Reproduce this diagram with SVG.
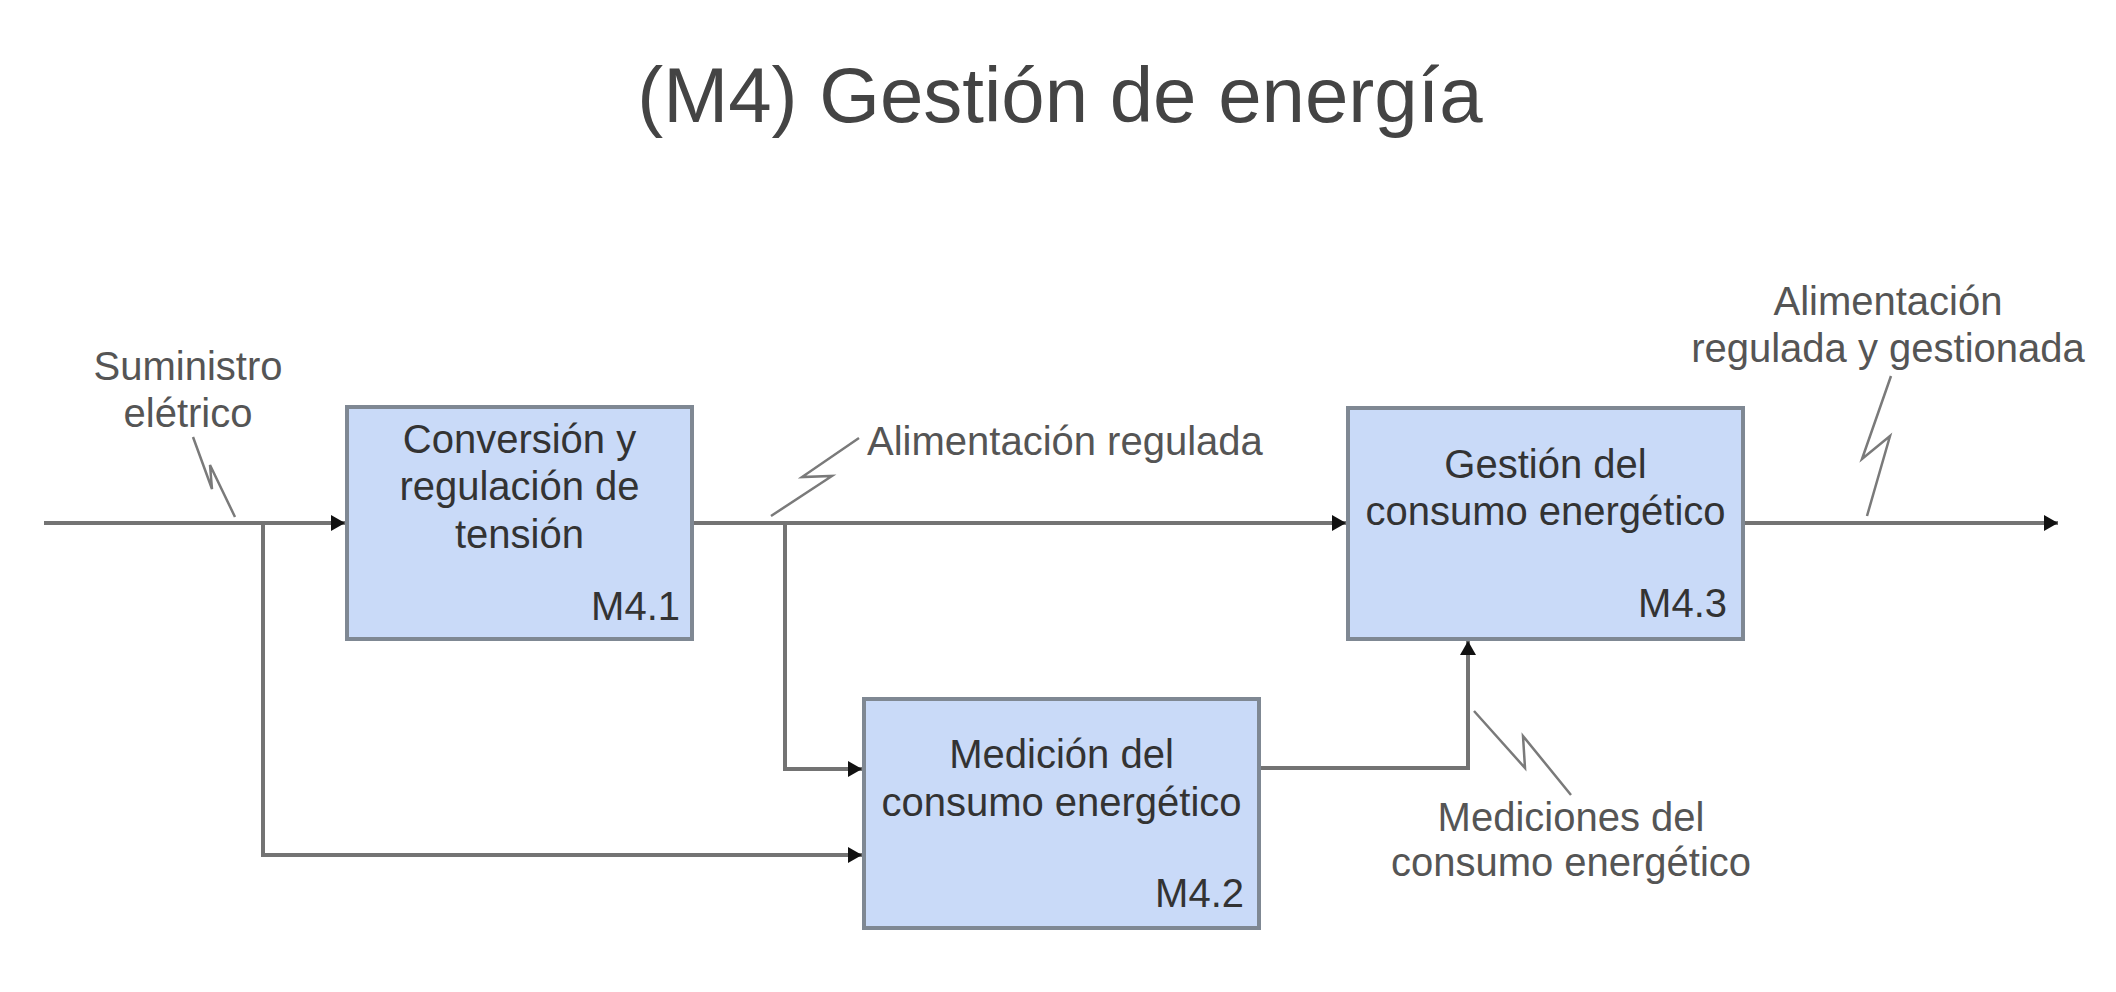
<svg xmlns="http://www.w3.org/2000/svg" width="2116" height="992" viewBox="0 0 2116 992">
<style>
  .title{font-family:"Liberation Sans",Arial,sans-serif;font-size:78px;fill:#444444;text-anchor:middle}
  .box{fill:#c9daf8;stroke:#7f8893;stroke-width:4}
  .bt{font-family:"Liberation Sans",Arial,sans-serif;font-size:40px;fill:#333333;text-anchor:middle}
  .id{font-family:"Liberation Sans",Arial,sans-serif;font-size:40px;fill:#333333;text-anchor:end}
  .lbl{font-family:"Liberation Sans",Arial,sans-serif;font-size:40px;fill:#555555}
  .c{text-anchor:middle}
  .wire{fill:none;stroke:#737373;stroke-width:4}
  .sq{fill:none;stroke:#7a7a7a;stroke-width:2.5}
</style>
<defs>
  <marker id="arr" markerUnits="userSpaceOnUse" markerWidth="14" markerHeight="16" refX="14" refY="8" orient="auto">
    <path d="M0,0 L14,8 L0,16 z" fill="#111111"/>
  </marker>
</defs>
<rect width="2116" height="992" fill="#ffffff"/>
<text class="title" x="1060" y="122">(M4) Gestión de energía</text>

<g id="connectors">
  <path class="wire" d="M44,523 H345" marker-end="url(#arr)"/>
  <path class="wire" d="M263,523 V855 H862" marker-end="url(#arr)"/>
  <path class="wire" d="M692,523 H1346" marker-end="url(#arr)"/>
  <path class="wire" d="M785,523 V769 H862" marker-end="url(#arr)"/>
  <path class="wire" d="M1259,768 H1468 V641" marker-end="url(#arr)"/>
  <path class="wire" d="M1743,523 H2058" marker-end="url(#arr)"/>
  <polyline class="sq" points="193,437 212,489 210,465 235,517"/>
  <polyline class="sq" points="771,516 832,476 802,477 859,438"/>
  <polyline class="sq" points="1474,711 1525,768 1523,736 1571,795"/>
  <polyline class="sq" points="1891,376 1862,459 1890,436 1867,516"/>
  <text class="lbl c" x="188" y="380">Suministro</text>
  <text class="lbl c" x="188" y="427">elétrico</text>
  <text class="lbl" x="867" y="455">Alimentación regulada</text>
  <text class="lbl c" x="1888" y="315">Alimentación</text>
  <text class="lbl c" x="1888" y="362">regulada y gestionada</text>
  <text class="lbl c" x="1571" y="831">Mediciones del</text>
  <text class="lbl c" x="1571" y="876">consumo energético</text>
</g>

<g id="m41">
  <rect class="box" x="347" y="407" width="345" height="232"/>
  <text class="bt" x="519.5" y="453">Conversión y</text>
  <text class="bt" x="519.5" y="500">regulación de</text>
  <text class="bt" x="519.5" y="548">tensión</text>
  <text class="id" x="680" y="620">M4.1</text>
</g>
<g id="m42">
  <rect class="box" x="864" y="699" width="395" height="229"/>
  <text class="bt" x="1061.5" y="768">Medición del</text>
  <text class="bt" x="1061.5" y="816">consumo energético</text>
  <text class="id" x="1244" y="907">M4.2</text>
</g>
<g id="m43">
  <rect class="box" x="1348" y="408" width="395" height="231"/>
  <text class="bt" x="1545.5" y="478">Gestión del</text>
  <text class="bt" x="1545.5" y="525">consumo energético</text>
  <text class="id" x="1727" y="617">M4.3</text>
</g>
</svg>
